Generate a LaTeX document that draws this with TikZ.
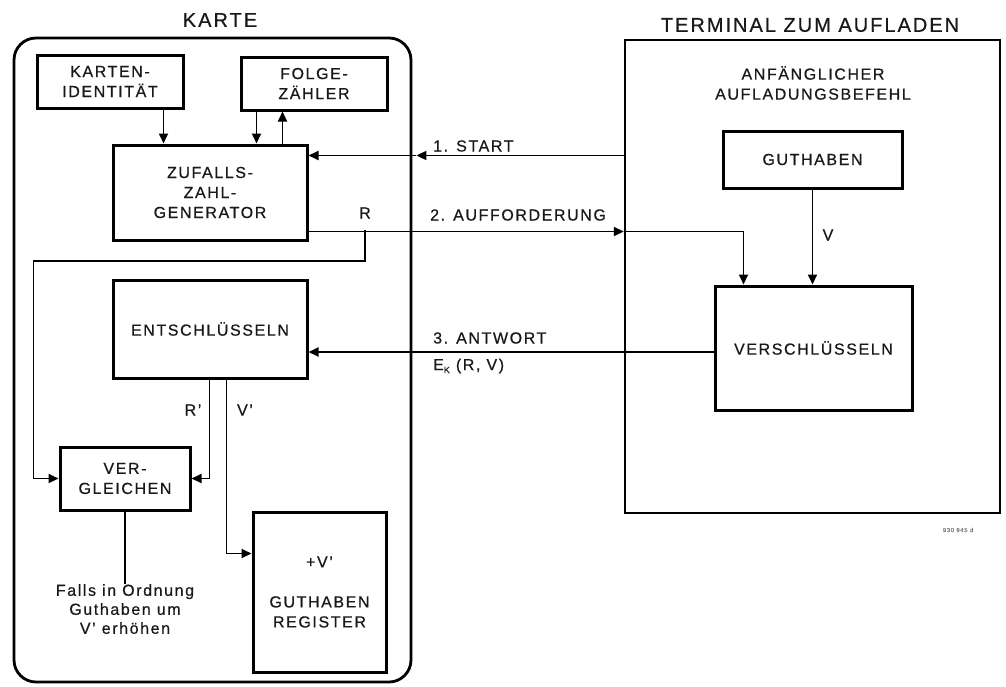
\documentclass[tikz,border=0pt]{standalone}
\usepackage{fontspec}
\setmainfont{Liberation Sans}[LetterSpace=10,FakeBold=0.6]
\usetikzlibrary{arrows.meta,calc}
\newcommand\dfont{\fontsize{16}{20}\selectfont}
\newcommand\tfont{\fontsize{20}{24}\selectfont}
\begin{document}
\begin{tikzpicture}[x=1pt,y=-1pt,
  every node/.style={text=black!90},
  box/.style={draw, line width=3pt, inner sep=0pt, align=center, font=\dfont},
  lab/.style={inner sep=0pt, font=\dfont, align=center},
  conn/.style={line width=1.8pt},
  arr/.style={conn, -{Triangle[length=10pt,width=9pt]}}]
\useasboundingbox (0,0) rectangle (1006,686);
% containers
\node[draw, line width=2.8pt, rounded corners=22pt, minimum width=397pt, minimum height=644pt, inner sep=0pt] (card) at (212.5,360) {};
\node[draw, line width=2.4pt, minimum width=375pt, minimum height=473pt, inner sep=0pt] (term) at (812.5,276.5) {};
\node[lab, font=\tfont] (kartetitle) at (220,20) {KARTE};
\node[lab, font=\tfont] (termtitle) at (810,25) {TERMINAL ZUM AUFLADEN};
% card boxes
\node[box, minimum width=146pt, minimum height=53pt] (kid) at (110,81.5) {KARTEN-\\IDENTITÄT};
\node[box, minimum width=146pt, minimum height=53pt] (folge) at (314,83.5) {FOLGE-\\ZÄHLER};
\node[box, minimum width=194pt, minimum height=95pt] (zuf) at (210,192.5) {ZUFALLS-\\ZAHL-\\GENERATOR};
\node[box, minimum width=194pt, minimum height=98pt] (ent) at (210,329) {ENTSCHLÜSSELN};
\node[box, minimum width=130pt, minimum height=63pt] (verg) at (125,478.5) {VER-\\GLEICHEN};
\node[box, minimum width=133pt, minimum height=160pt] (greg) at (319.5,592) {+V'\\[20pt]GUTHABEN\\REGISTER};
% terminal boxes
\node[lab] (anf) at (813,83) {ANFÄNGLICHER\\AUFLADUNGSBEFEHL};
\node[box, minimum width=179pt, minimum height=57pt] (guth) at (812.5,159.5) {GUTHABEN};
\node[box, minimum width=197pt, minimum height=124pt] (vers) at (813.5,348) {VERSCHLÜSSELN};
% internal card connectors
\coordinate (k1) at ($(kid.south west)+(128,0)$);
\coordinate (f1) at ($(folge.south west)+(17,0)$);
\coordinate (f2) at ($(folge.south west)+(43,0)$);
\draw[arr] (k1) -- (k1 |- zuf.north);
\draw[arr] (f1) -- (f1 |- zuf.north);
\draw[arr] (f2 |- zuf.north) -- (f2);
% 1. START
\coordinate (s1) at ($(zuf.north east)+(0,12)$);
\coordinate (sm) at ($(card.east |- s1)+(4,0)$);
\draw[arr] (term.west |- s1) -- (sm);
\draw[arr] (sm) -- (zuf.east |- s1);
\node[lab, anchor=west] (start) at (433,146) {1. START};
% 2. AUFFORDERUNG
\coordinate (r1) at ($(zuf.south east)+(0,-10)$);
\coordinate (rb) at (365,230);
\draw[arr] (zuf.east |- r1) -- (term.west |- r1);
\draw[arr] (term.west |- r1) -| ($(vers.north west)+(30,0)$);
\draw[arr] (rb) -- ++(0,31) -| ($(verg.west)+(-25,0)$) -- (verg.west);
\node[lab, anchor=west] (auff) at (430,215) {2. AUFFORDERUNG};
\node[lab] (rlab) at (365,213) {R};
% V
\draw[arr] (guth.south) -- (guth.south |- vers.north);
\node[lab] (vlab) at (828,235) {V};
% 3. ANTWORT
\coordinate (a1) at ($(vers.west)+(0,4)$);
\draw[arr] (a1) -- (ent.east |- a1);
\node[lab, anchor=west] (antw) at (433,338) {3. ANTWORT};
\node[lab, anchor=west] (ekrv) at (433,366) {E\raisebox{-3pt}{\fontsize{9}{10}\selectfont K} (R, V)};
% R' and V'
\draw[arr] ($(ent.south west)+(98,0)$) |- (verg.east);
\draw[arr] ($(ent.south west)+(115,0)$) |- ($(greg.north west)+(0,43)$);
\node[lab] (rplab) at (193,410) {R'};
\node[lab] (vplab) at (245,410) {V'};
% result
\node[lab, anchor=north, font=\fontsize{16}{19}\selectfont] (falls) at (125,584) {Falls in Ordnung\\Guthaben um\\V' erhöhen};
\draw[conn] (verg.south) -- (verg.south |- falls.north);
% figure number
\node[lab, font=\fontsize{6}{7}\selectfont, text=black!50] (fig) at (958,530) {930 945 d};
\end{tikzpicture}
\end{document}
